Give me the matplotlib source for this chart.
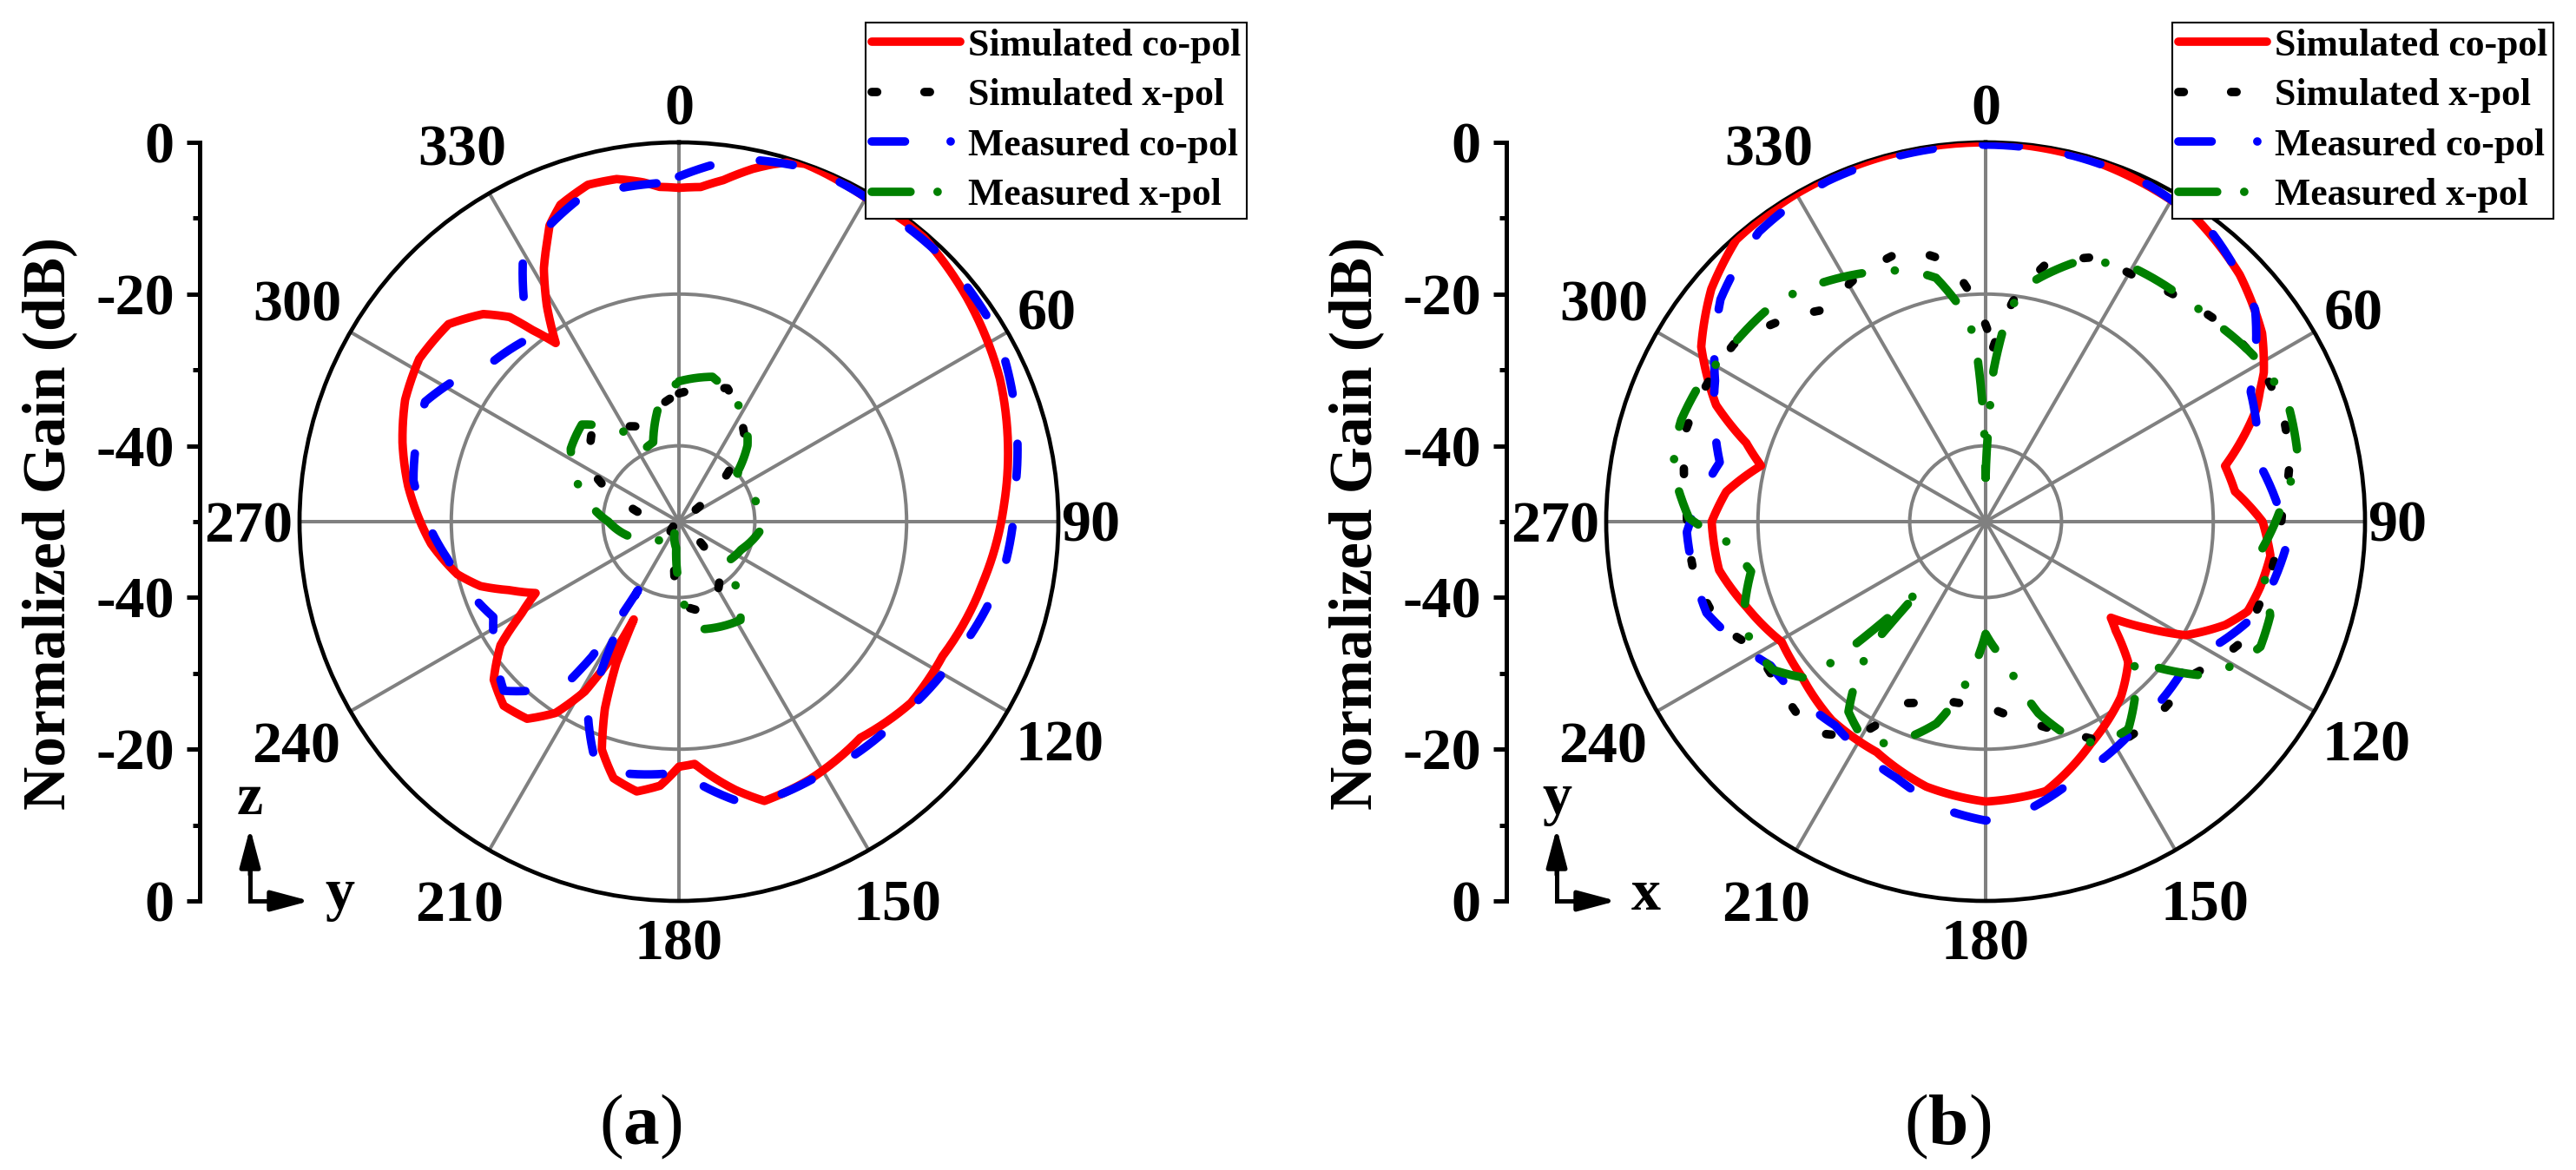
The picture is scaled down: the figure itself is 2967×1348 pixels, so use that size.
import numpy as np
import matplotlib
matplotlib.use('Agg')
import matplotlib.pyplot as plt
from matplotlib.lines import Line2D

plt.rcParams['font.family'] = ['Liberation Serif', 'DejaVu Serif']
plt.rcParams['font.weight'] = 'bold'
plt.rcParams['mathtext.fontset'] = 'custom'
plt.rcParams['mathtext.rm'] = 'Liberation Serif:normal'
plt.rcParams['mathtext.bf'] = 'Liberation Serif:bold'

# ---------------- data (angle in deg, normalized gain in dB) ----------------
# panel (a): yz-plane
a_sim_co_th = [0, 3.7, 7.4, 11.8, 14.7, 17.2, 19.4, 22.7, 29.9, 39.5, 52, 66, 77, 87, 101, 117,
               128, 140, 153, 163, 168, 176.3, 180, 184.1, 188.9, 194.3, 198.7, 201.6, 203.9,
               204.8, 206.8, 209, 212.8, 217.6, 223.6, 229.5, 235.3, 239.5, 243.5, 248, 252,
               256.6, 264.9, 272, 277.5, 286, 294, 302.1, 310.6, 316.7, 320.4, 322.6, 325.4,
               328.5, 331.9, 335, 336.4, 339.5, 344.9, 349.7, 353.9, 356.7, 360]
a_sim_co_db = [-6.0, -5.8, -4.6, -2.5, -1.3, -0.4, 0, -0.2, -0.7, -0.4, -1.9, -3.7, -5.5, -7.1,
               -9.1, -11.0, -11.2, -12.8, -11.9, -11.5, -13.8, -18.0, -17.7, -15.1, -14.0, -15.1,
               -18.3, -23.5, -29.7, -35.8, -29.2, -24.4, -20.0, -17.2, -16.5, -17.9, -21.4,
               -25.8, -28.9, -25.9, -22.5, -20.0, -17.2, -15.4, -14.0, -12.1, -10.5, -9.6,
               -10.0, -12.4, -15.0, -18.2, -21.4, -16.7, -12.2, -9.0, -7.4, -5.4, -4.0, -4.1,
               -5.0, -5.8, -6.0]

a_sim_x_th = [0, 20, 37, 46, 55, 97, 130, 141, 161, 181, 188, 230, 270, 287, 300, 315, 338, 360]
a_sim_x_db = [-33.1, -31.3, -35.7, -41.5, -47.7, -48.5, -48.5, -41.5, -37.4, -39.3, -45.8,
              -49.0, -48.9, -43.2, -36.8, -33.7, -36.5, -33.1]

a_meas_co_th = [0, 9, 21, 36, 45, 59, 74, 84, 98, 116, 131, 151, 166, 176, 180, 183.3, 198.2,
                206.4, 207.4, 209.6, 210.8, 212.8, 214.9, 226, 242.8, 260.9, 278.8, 295.3,
                311.1, 320.9, 329.6, 343, 356.8, 360]
a_meas_co_db = [-4.5, -1.6, -0.3, -0.9, -0.8, -1.3, -3.7, -5.4, -6.7, -9.5, -11.1, -11.8, -11.5,
                -15.5, -17.8, -16.7, -15.6, -22.9, -27.6, -33.7, -39.5, -28.8, -23.6, -17.9,
                -22.5, -19.1, -14.6, -13.0, -17.7, -18.8, -9.4, -5.4, -5.3, -4.5]

a_meas_x_th = [0, 13, 32, 42, 50, 73, 93, 114, 133, 140, 148, 168, 177, 186, 210, 229, 252, 270,
               292, 304, 315, 328, 333, 342, 351, 360]
a_meas_x_db = [-31.5, -30.4, -33.6, -36.5, -40.0, -39.6, -38.9, -41.0, -41.9, -37.8, -34.7,
               -35.5, -39.3, -46.5, -49.5, -46.0, -43.4, -40.7, -35.4, -32.8, -31.9, -35.8,
               -39.5, -39.0, -34.0, -31.5]

# panel (b): xy-plane
b_sim_co_th = [0, 15, 25, 34.5, 45.8, 55.7, 61.8, 64.4, 67.5, 72.8, 76.9, 83.1, 90, 96.8, 103.4,
               108.9, 113.3, 119.6, 123.6, 127.5, 130, 134.6, 142.4, 154.7, 167.4, 180, 192.6,
               205.3, 217.8, 229.8, 239.4, 250.1, 259.7, 270, 276.6, 284, 288.2, 293.4, 301.6,
               310.3, 318.5, 330, 345, 360]
b_sim_co_db = [0, -0.3, -0.8, -1.3, -3.3, -5.9, -8.4, -9.9, -11.4, -14.9, -17.6, -16.9, -13.5,
               -12.2, -12.8, -13.5, -15.6, -19.7, -24.7, -29.2, -27.6, -23.6, -20.8, -17.6,
               -13.6, -13.1, -14.2, -16.4, -16.9, -18.3, -18.8, -16.6, -14.3, -13.9, -15.6,
               -19.5, -16.8, -11.3, -6.0, -2.6, -0.4, -0.1, 0, 0]

b_sim_x_th = [2.5, 7.1, 13.1, 22.1, 32.5, 42.1, 50.9, 59.5, 69.8, 79, 88.2, 104, 116.1, 126.9,
              137.4, 149.2, 157.5, 168.6, 180.6, 194, 203.6, 210.8, 219.6, 230.7, 241, 248.8,
              259.4, 271.5, 278.6, 287.3, 305.2, 314.5, 323, 332, 343.8, 351.8, 358, 362.5]
b_sim_x_db = [-27, -20.7, -15.2, -12.4, -12.1, -10.8, -9.3, -8.4, -8.3, -9.2, -10.9, -12.1,
              -13.0, -16.2, -15.9, -15.9, -19.8, -23.3, -25.9, -25.8, -23.9, -17.2, -14.0,
              -15.2, -15.5, -12.4, -11.0, -10.6, -9.8, -8.7, -9.4, -12.2, -15.0, -13.6, -12.6,
              -15.4, -21.7, -27]

b_meas_co_th = [0, 13.6, 26, 38.4, 51.8, 63.9, 77.7, 93.7, 108.5, 124.2, 142.4, 160, 173, 180,
                186.8, 199, 216.4, 236.2, 251.9, 268, 282.6, 297.5, 310, 322, 335, 348, 360]
b_meas_co_db = [-0.3, -0.4, -0.7, -1.7, -4.8, -11.1, -13.2, -10.1, -12.2, -17.6, -16.6, -14.3,
                -11.3, -10.6, -11.5, -14.2, -16.6, -15.9, -11.3, -10.6, -14.1, -9.8, -4.4, -1.5,
                -0.5, -0.4, -0.3]

b_meas_x_th = [0, 1.5, 3, 5.2, 7.5, 10.6, 19.1, 24.8, 30, 39, 44.2, 49.5, 57.9, 63.6, 68.4, 77.3,
               81.8, 86.5, 96.4, 101.9, 108.3, 114.5, 120.2, 125.3, 130, 133, 138, 145.5, 152.6,
               158.5, 164.6, 168, 171.7, 180, 186.2, 190, 193.7, 203, 209, 215.8, 220.5, 222.5,
               223.7, 225, 226, 227.4, 228.3, 235.2, 242.5, 249.8, 258, 264.8, 270.7, 278.6,
               283.7, 288.5, 297.1, 301.6, 307.3, 316.3, 322.5, 327.9, 337.4, 343.4, 348.5, 355,
               356.8, 359, 360]
b_meas_x_db = [-44.2, -38.4, -30.0, -24.6, -20.8, -18.0, -13.8, -12.4, -11.3, -10.8, -10.4, -9.9,
               -8.5, -7.8, -7.2, -7.9, -9.2, -10.8, -13.6, -12.4, -10.5, -10.2, -12.3, -14.9,
               -19.9, -23.3, -20.4, -16.8, -17.0, -19.4, -23.8, -27.5, -31.3, -35.2, -29.2,
               -25.7, -22.6, -18.2, -17.0, -19.1, -24.3, -28.2, -37.8, -33.9, -29.6, -23.4,
               -18.9, -15.8, -15.1, -16.1, -18.4, -16.5, -10.9, -8.5, -7.8, -7.7, -8.3, -9.1,
               -9.5, -10.0, -11.2, -12.3, -14.2, -15.5, -17.2, -23.1, -26.6, -37.0, -44.2]

series_labels = ['Simulated co-pol', 'Simulated x-pol', 'Measured co-pol', 'Measured x-pol']
angle_labels = [0, 30, 60, 90, 120, 150, 180, 210, 240, 270, 300, 330]
gain_ticks = [0, -20, -40]
r_min = -50

# ---------------- layout (pixels) ----------------
W, H = 2967, 1348
CY, R = 601, 437
fig = plt.figure(figsize=(W / 100, H / 100), dpi=100)
fig.patch.set_facecolor('white')

over = fig.add_axes([0, 0, 1, 1])
over.set_xlim(0, W)
over.set_ylim(H, 0)
over.axis('off')

LW = 7
styles = [
    dict(color='red', lw=LW, ls='-', solid_capstyle='round', solid_joinstyle='round'),
    dict(color='black', lw=LW, ls=(0, (0.65, 4.8)), dash_capstyle='round'),
    dict(color='blue', lw=LW, ls=(0, (3.95, 5.95)), dash_capstyle='round'),
    dict(color='green', lw=LW, ls=(0, (4.7, 3.9, 0.01, 3.9)), dash_capstyle='round'),
]
legend_styles = [
    dict(color='red', lw=LW, ls='-', solid_capstyle='round'),
    dict(color='black', lw=LW, ls=(0, (0.65, 5.6)), dash_capstyle='round'),
    dict(color='blue', lw=LW, ls=(0, (3.95, 5.4, 0.01, 9)), dash_capstyle='round'),
    dict(color='green', lw=LW, ls=(0, (4.6, 3.2, 0.01, 9)), dash_capstyle='round'),
]

label_dist = {0: 481, 30: 500, 60: 489, 90: 474, 120: 506, 150: 504, 180: 482,
              210: 505, 240: 509, 270: 496, 300: 508, 330: 500}


def draw_panel(cx, curves, tag, up, right, axis_x):
    ax = fig.add_axes([(cx - R) / W, 1 - (CY + R) / H, 2 * R / W, 2 * R / H],
                      projection='polar')
    ax.set_theta_zero_location('N')
    ax.set_theta_direction(-1)
    ax.set_ylim(r_min, 0)
    ax.set_yticks([-40, -20])
    ax.set_yticklabels([])
    ax.set_xticks(np.deg2rad(angle_labels))
    ax.set_xticklabels([])
    ax.set_xticks(np.deg2rad(np.arange(15, 360, 30)), minor=True)
    ax.grid(True, color='#808080', lw=2.9)
    ax.tick_params(axis='x', which='major', direction='in', length=12, width=3, color='black')
    ax.tick_params(axis='x', which='minor', direction='in', length=6, width=2.6, color='black')
    ax.tick_params(axis='y', length=0)
    ax.spines['polar'].set_linewidth(3.4)
    for (th, db), st in zip(curves, styles):
        ln, = ax.plot(np.deg2rad(th), db, zorder=4, **st)
        # let the polar transform draw each segment along the (theta, r) scale
        ln.get_path()._interpolation_steps = 40

    # angular labels
    for a in angle_labels:
        d = label_dist[a]
        x = cx + d * np.sin(np.deg2rad(a))
        y = CY - d * np.cos(np.deg2rad(a))
        over.text(x, y + 23, str(a), ha='center', va='baseline', fontsize=49,
                  fontweight='bold')

    # radial gain axis drawn on the left
    lax = fig.add_axes([axis_x / W, 1 - (CY + R) / H, 0.0005, 2 * R / H])
    lax.patch.set_visible(False)
    for s in ['top', 'right', 'bottom']:
        lax.spines[s].set_visible(False)
    lax.spines['left'].set_linewidth(3.6)
    lax.set_ylim(r_min, -r_min)
    lax.set_xticks([])
    pos = [v - r_min for v in gain_ticks] + [-(v - r_min) for v in gain_ticks]
    lax.set_yticks(pos)
    lax.set_yticklabels([str(v) for v in gain_ticks] * 2)
    lax.set_yticks([40, 20, 0, -20, -40], minor=True)
    lax.tick_params(axis='y', which='major', length=11, width=3.6, pad=10, labelsize=49)
    lax.tick_params(axis='y', which='minor', length=5.5, width=3.6)
    for t in lax.get_yticklabels():
        t.set_fontweight('bold')

    over.text(axis_x - 173, CY + 2, 'Normalized Gain (dB)', rotation=90, ha='center',
              va='center', fontsize=50, fontweight='bold')

    # coordinate arrows
    ox, oy = axis_x + 58, CY + R
    over.plot([ox, ox, ox + 40], [oy - 40, oy, oy], color='black', lw=3.6,
              solid_joinstyle='miter', solid_capstyle='butt')
    arrow = dict(arrowstyle='-|>,head_length=0.6,head_width=0.16', mutation_scale=45,
                 lw=3.6, color='black', shrinkA=0, shrinkB=0)
    over.annotate('', xy=(ox, oy - 84), xytext=(ox, oy - 30), arrowprops=arrow)
    over.annotate('', xy=(ox + 69, oy), xytext=(ox + 30, oy), arrowprops=arrow)
    over.text(ox, oy - 116, up, ha='center', va='center', fontsize=49, fontweight='bold')
    over.text(ox + 103, oy - 6, right, ha='center', va='center', fontsize=49,
              fontweight='bold')

    # panel tag
    over.text(cx - 44, 1298, r'$\mathrm{(}\mathbf{' + tag + r'}\mathrm{)}$', ha='center',
              va='center', fontsize=60)

    handles = [Line2D([], [], **st) for st in legend_styles]
    leg = fig.legend(handles, series_labels, loc='upper left',
                     bbox_to_anchor=((cx + 215) / W, 1 - 26 / H), borderaxespad=0,
                     frameon=True, fancybox=False, framealpha=1, edgecolor='black',
                     borderpad=0.15, handlelength=2.35, handletextpad=0.2, labelspacing=0.4,
                     prop={'size': 31.5, 'weight': 'bold'})
    leg.get_frame().set_linewidth(1.5)


draw_panel(782,
           [(a_sim_co_th, a_sim_co_db), (a_sim_x_th, a_sim_x_db),
            (a_meas_co_th, a_meas_co_db), (a_meas_x_th, a_meas_x_db)],
           'a', 'z', 'y', 230)
draw_panel(2287,
           [(b_sim_co_th, b_sim_co_db), (b_sim_x_th, b_sim_x_db),
            (b_meas_co_th, b_meas_co_db), (b_meas_x_th, b_meas_x_db)],
           'b', 'y', 'x', 1735)

fig.savefig('out.png', dpi=100)
